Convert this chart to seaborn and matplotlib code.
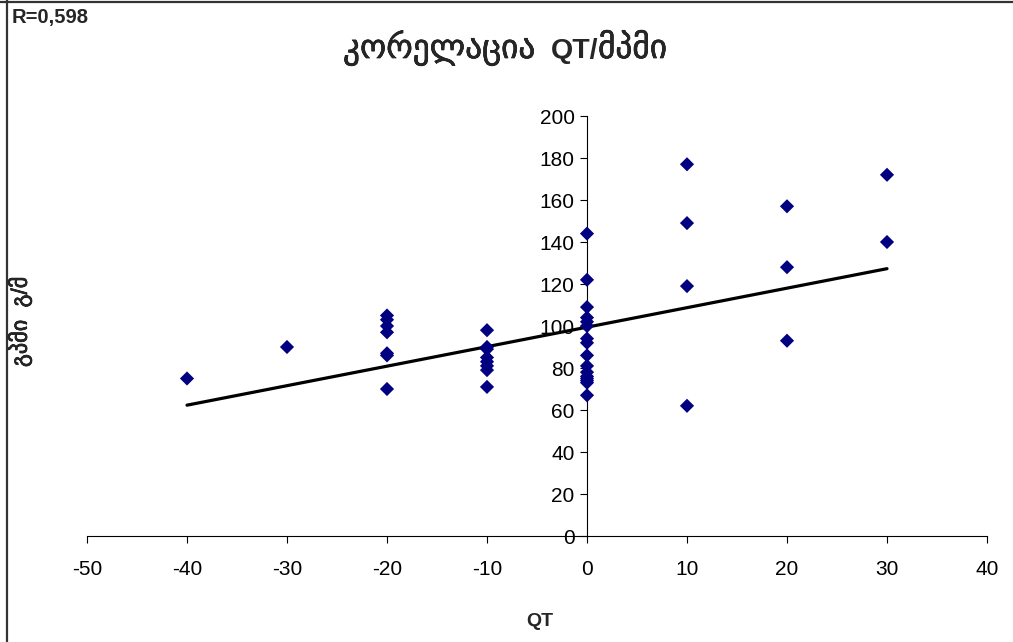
import matplotlib
matplotlib.use("Agg")
import matplotlib.pyplot as plt
import matplotlib.patheffects as pe
import seaborn as sns
import pandas as pd
from matplotlib.lines import Line2D

# ---- data ----
qt_m40 = [75]
qt_m30 = [90]
qt_m20 = [105, 103, 100, 97, 87, 86, 70]
qt_m10 = [98, 90, 89, 85, 83, 81, 79, 71]
qt_0 = [144, 122, 109, 104, 102, 100, 94, 92, 86, 81, 78, 76, 75, 74, 73, 67]
qt_10 = [177, 149, 119, 62]
qt_20 = [157, 128, 93]
qt_30 = [172, 140]
groups = {-40: qt_m40, -30: qt_m30, -20: qt_m20, -10: qt_m10,
          0: qt_0, 10: qt_10, 20: qt_20, 30: qt_30}

trend_x = [-40, 30]
trend_y = [62.3, 127.3]

x_ticks = list(range(-50, 41, 10))
y_ticks = list(range(0, 201, 20))

title_parts = ["კორელაცია", "QT/", "მპმი"]
ylabel_text = "გპმი  გ/მ"
xlabel_text = "QT"
r_text = "R=0,598"

rows = [(k, v) for k, vals in groups.items() for v in vals]
df = pd.DataFrame(rows, columns=["QT", "val"])

sns.set_theme(style="white")
plt.rcParams["font.family"] = ["Liberation Sans", "DejaVu Sans"]

W, H = 1013, 642
fig = plt.figure(figsize=(W / 100, H / 100), dpi=100)
fig.patch.set_facecolor("white")
ax = fig.add_axes([87 / W, 1 - 536 / H, 900 / W, 420 / H])
ax.patch.set_alpha(0)

sns.lineplot(x=trend_x, y=trend_y, color="black", linewidth=2.3, ax=ax, zorder=2)
sns.scatterplot(data=df, x="QT", y="val", marker="D", color="#000080",
                s=52, edgecolor="none", linewidth=0, ax=ax, zorder=3)

ax.set_xlim(-50, 40)
ax.set_ylim(0, 200)
ax.set_xticks(x_ticks)
ax.set_yticks(y_ticks)
ax.set_xticklabels([str(t) for t in x_ticks])
ax.set_yticklabels([str(t) for t in y_ticks])
ax.set_xlabel("")
ax.set_ylabel("")
ax.grid(False)

ax.spines["left"].set_position(("data", 0))
ax.spines["bottom"].set_position(("data", 0))
ax.spines["top"].set_visible(False)
ax.spines["right"].set_visible(False)
for s in ("left", "bottom"):
    ax.spines[s].set_color("black")
    ax.spines[s].set_linewidth(0.8)
    ax.spines[s].set_zorder(1)
ax.tick_params(axis="both", which="major", direction="out", length=5,
               width=0.8, color="black", labelsize=15, labelcolor="black",
               bottom=True, left=True)
ax.tick_params(axis="y", pad=4)
ax.tick_params(axis="x", pad=12)

# title in three pieces (Georgian medium weight, QT bold)
thick = [pe.withStroke(linewidth=0.45, foreground="black")]
base_y = 1 - 58 / H
fig.text(343 / W, base_y, title_parts[0], ha="left", va="baseline",
         fontsize=24, fontweight="normal", path_effects=thick)
fig.text(551 / W, base_y, title_parts[1], ha="left", va="baseline",
         fontsize=20.5, fontweight="bold")
fig.text(598 / W, base_y, title_parts[2], ha="left", va="baseline",
         fontsize=24, fontweight="normal", path_effects=thick)

fig.text(540 / W, 1 - 622 / H, xlabel_text, ha="center", va="center",
         fontsize=14, fontweight="bold")
fig.text(20 / W, 1 - 322 / H, ylabel_text, ha="center", va="center",
         rotation=90, fontsize=16, fontweight="normal",
         path_effects=[pe.withStroke(linewidth=0.5, foreground="black")])
fig.text(12 / W, 1 - 17 / H, r_text, ha="left", va="center",
         fontsize=14.5, fontweight="bold")

fig.add_artist(Line2D([6.5 / W, 6.5 / W], [0, 1], transform=fig.transFigure,
                      color="#333333", linewidth=1.6))
fig.add_artist(Line2D([0, 1], [1 - 1.5 / H, 1 - 1.5 / H], transform=fig.transFigure,
                      color="#333333", linewidth=1.6))

fig.savefig("out.png", dpi=100)
